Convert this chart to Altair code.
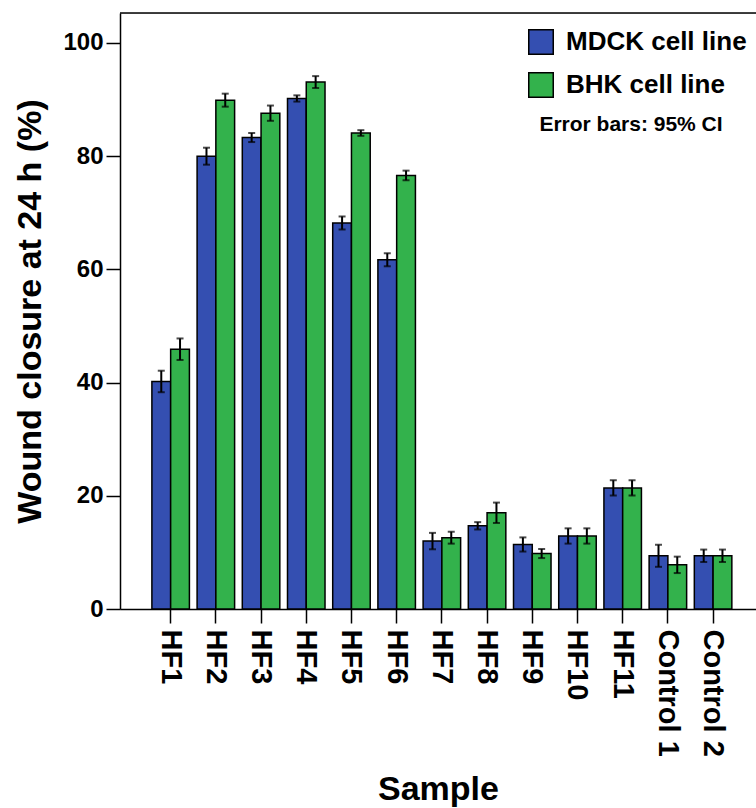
import altair as alt
import pandas as pd

# Wound closure at 24 h per sample, mean and 95% CI half-width for each cell line
samples = ["HF1", "HF2", "HF3", "HF4", "HF5", "HF6", "HF7", "HF8", "HF9",
           "HF10", "HF11", "Control 1", "Control 2"]
series_names = ["MDCK cell line", "BHK cell line"]

mdck_mean = [40.2, 80.0, 83.3, 90.2, 68.2, 61.7, 12.0, 14.7, 11.4, 12.9, 21.4, 9.4, 9.4]
mdck_ci = [1.9, 1.5, 0.8, 0.55, 1.15, 1.15, 1.45, 0.65, 1.25, 1.35, 1.35, 1.95, 1.1]
bhk_mean = [45.9, 89.9, 87.6, 93.1, 84.1, 76.6, 12.6, 17.0, 9.8, 12.9, 21.4, 7.8, 9.4]
bhk_ci = [1.9, 1.15, 1.35, 1.05, 0.5, 0.85, 1.05, 1.8, 0.8, 1.35, 1.35, 1.45, 1.1]

rows = []
for name, means, cis in [(series_names[0], mdck_mean, mdck_ci),
                         (series_names[1], bhk_mean, bhk_ci)]:
    for s, m, c in zip(samples, means, cis):
        rows.append({"sample": s, "line": name, "mean": m, "lo": m - c, "hi": m + c})
df = pd.DataFrame(rows)

FONT = "Liberation Sans"
BLUE = "#344fb1"
GREEN = "#33b24c"

x_enc = alt.X(
    "sample:N", sort=samples,
    scale=alt.Scale(paddingInner=0.17, paddingOuter=0.62, align=0.569),
    axis=alt.Axis(
        title="Sample", labelAngle=90, labelFont=FONT, labelFontSize=29,
        labelFontWeight="bold", labelColor="black", labelPadding=6,
        labelLimit=0,
        titleFont=FONT, titleFontSize=34, titleFontWeight="bold",
        titleColor="black", titlePadding=16,
        tickSize=14, tickWidth=1.5, tickColor="black",
        domainColor="black", domainWidth=1.5,
    ),
)
xoff_enc = alt.XOffset("line:N", sort=series_names,
                       scale=alt.Scale(paddingInner=0, paddingOuter=0))
y_scale = alt.Scale(domain=[0, 105.3], nice=False, zero=True)

base = alt.Chart(df)

bars = base.mark_bar(stroke="black", strokeWidth=1.5).encode(
    x=x_enc,
    xOffset=xoff_enc,
    y=alt.Y(
        "mean:Q", scale=y_scale,
        axis=alt.Axis(
            title="Wound closure at 24 h (%)", values=[0, 20, 40, 60, 80, 100],
            grid=False, labelFont=FONT, labelFontSize=24, labelFontWeight="bold",
            labelColor="black", labelPadding=3,
            titleFont=FONT, titleFontSize=34, titleFontWeight="bold",
            titleColor="black", titlePadding=15,
            tickSize=14, tickWidth=1.5, tickColor="black",
            domainColor="black", domainWidth=1.5,
        ),
    ),
    color=alt.Color(
        "line:N", sort=series_names,
        scale=alt.Scale(domain=series_names, range=[BLUE, GREEN]),
        legend=alt.Legend(
            title=None, orient="none", legendX=408, legendY=16,
            symbolType="square", symbolSize=600, symbolStrokeColor="black",
            symbolStrokeWidth=1.5, symbolOpacity=1,
            labelFont=FONT, labelFontSize=26, labelFontWeight="bold",
            labelColor="black", labelOffset=12, labelLimit=0,
            rowPadding=11, padding=0,
        ),
    ),
)

whiskers = base.mark_rule(color="black", strokeWidth=2).encode(
    x=x_enc, xOffset=xoff_enc, y=alt.Y("lo:Q", scale=y_scale), y2="hi:Q"
)
cap_lo = base.mark_tick(color="black", size=7, thickness=2).encode(
    x=x_enc, xOffset=xoff_enc, y=alt.Y("lo:Q", scale=y_scale)
)
cap_hi = base.mark_tick(color="black", size=7, thickness=2).encode(
    x=x_enc, xOffset=xoff_enc, y=alt.Y("hi:Q", scale=y_scale)
)

# top border of the plot frame
top_rule = alt.Chart(pd.DataFrame({"k": [0]})).mark_rule(
    color="black", strokeWidth=1.5
).encode(y=alt.value(0), x=alt.value(0), x2=alt.value(636))

note = alt.Chart(pd.DataFrame({"note": ["Error bars: 95% CI"]})).mark_text(
    font=FONT, fontSize=21, fontWeight="bold", color="black",
    align="center", baseline="middle"
).encode(text="note:N", x=alt.value(511), y=alt.value(112))

chart = alt.layer(bars, whiskers, cap_lo, cap_hi, top_rule, note).properties(
    width=636, height=596,
    autosize=alt.AutoSizeParams(type="none"),
    padding={"left": 120, "top": 13, "right": 0, "bottom": 199},
).configure_view(stroke=None).configure(background="white")

chart.save("out.html", embed_options={"renderer": "svg", "actions": False})
